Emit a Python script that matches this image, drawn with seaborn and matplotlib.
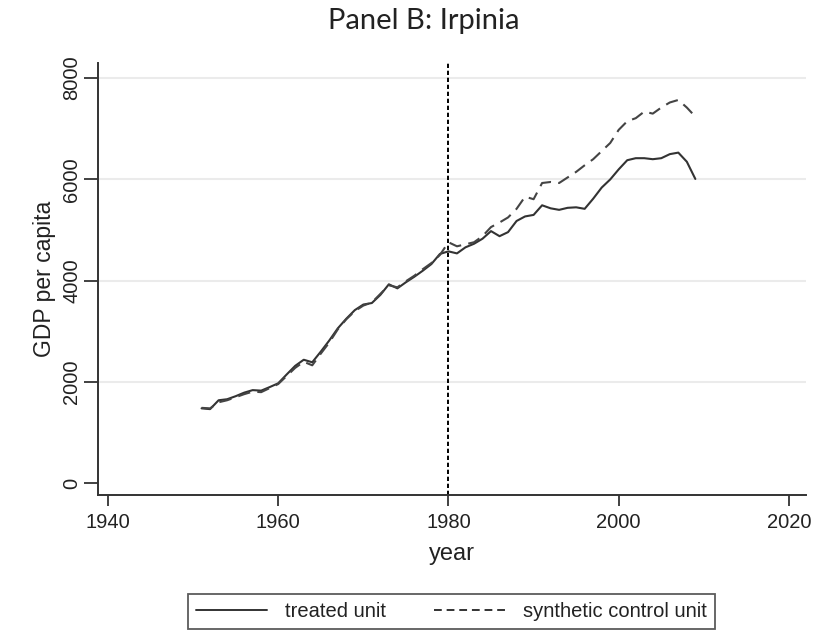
"""Panel B: Irpinia - treated vs synthetic control GDP per capita."""

import pandas as pd
import matplotlib
matplotlib.use("Agg")
import matplotlib.pyplot as plt
import seaborn as sns

# datos
years = list(range(1951, 2010))
treated = [
    1480, 1465, 1640, 1660, 1720, 1790, 1840, 1830, 1900, 1975,
    2150, 2320, 2440, 2390, 2600, 2820, 3060, 3250, 3420, 3530,
    3560, 3720, 3930, 3850, 3970, 4080, 4200, 4330, 4530, 4580,
    4540, 4660, 4730, 4830, 4980, 4880, 4960, 5180, 5270, 5300,
    5490, 5430, 5400, 5440, 5450, 5420, 5620, 5840, 6000, 6200,
    6380, 6420, 6420, 6400, 6420, 6500, 6530, 6350, 6010,
]
synthetic = [
    1490, 1480, 1600, 1640, 1700, 1760, 1810, 1800, 1880, 1960,
    2120, 2280, 2400, 2330, 2560, 2780, 3040, 3240, 3400, 3510,
    3570, 3740, 3910, 3870, 3990, 4100, 4230, 4350, 4510, 4760,
    4680, 4720, 4760, 4880, 5060, 5150, 5250, 5420, 5660, 5610,
    5930, 5950, 5930, 6040, 6150, 6280, 6400, 6560, 6720, 6980,
    7150, 7210, 7340, 7300, 7420, 7520, 7570, 7420, 7240,
]
series_names = ["treated unit", "synthetic control unit"]
treatment_year = 1980
x_ticks = [1940, 1960, 1980, 2000, 2020]
y_ticks = [0, 2000, 4000, 6000, 8000]

df = pd.DataFrame({"year": years, series_names[0]: treated, series_names[1]: synthetic})
largo = df.melt(id_vars="year", var_name="unit", value_name="gdp")

sns.set_style("white")
plt.rcParams["font.family"] = ["Liberation Sans", "DejaVu Sans"]

fig = plt.figure(figsize=(8.26, 6.33), dpi=100)
ax = fig.add_axes([0.1183, 0.218, 0.8575, 0.6825])

ink = "#333333"
ax.axvline(treatment_year, color="black", lw=1.4, ls=(0, (2.2, 1.4)), zorder=1)
sns.lineplot(data=largo, x="year", y="gdp", hue="unit", style="unit",
             palette=[ink, "#444444"], dashes=[(None, None), (6, 3.5)],
             linewidth=1.5, legend=False, ax=ax, zorder=3)
ax.lines[1].set_linestyle("-")
ax.lines[2].set_dashes((6, 3.5))

ax.set_xlim(1938.8, 2022)
ax.set_ylim(-231, 8300)
ax.set_xticks(x_ticks)
ax.set_yticks(y_ticks)
ax.grid(False)
for v in y_ticks[1:]:
    ax.axhline(v, color="#ebebeb", lw=1.5, zorder=0)

for side in ["top", "right"]:
    ax.spines[side].set_visible(False)
for side in ["left", "bottom"]:
    ax.spines[side].set_color(ink)
    ax.spines[side].set_linewidth(1.4)

ax.tick_params(axis="both", which="major", direction="out", color=ink,
               width=1.3, labelsize=14.5, labelcolor="#222222",
               bottom=True, left=True)
ax.tick_params(axis="y", length=10, pad=2)
ax.tick_params(axis="x", length=8, pad=5)
plt.setp(ax.get_yticklabels(), rotation=90, va="center")

ax.set_xlabel("year", fontsize=17, color="#222222", labelpad=8)
ax.set_ylabel("GDP per capita", fontsize=16.5, color="#222222", labelpad=4)
fig.text(0.513, 0.967, "Panel B: Irpinia", ha="center", va="center",
         fontsize=21, family="Lato", color="#222222")

handles = [
    plt.Line2D([], [], color=ink, lw=1.4, ls="-"),
    plt.Line2D([], [], color=ink, lw=1.4, dashes=(4, 2.5)),
]
leg = fig.legend(handles, series_names, loc="center", ncol=2,
                 bbox_to_anchor=(0.5466, 0.034), fontsize=14.5,
                 frameon=True, fancybox=False, handlelength=3.5,
                 columnspacing=2.4, handletextpad=0.9, borderpad=0.4,
                 borderaxespad=0.0)
leg.get_frame().set_edgecolor(ink)
leg.get_frame().set_linewidth(1.3)
for t in leg.get_texts():
    t.set_color("#222222")

fig.savefig("out.png", dpi=100)
